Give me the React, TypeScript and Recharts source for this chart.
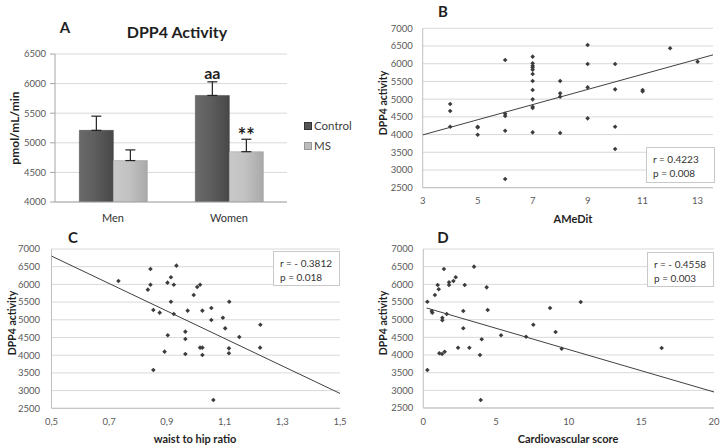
import React from 'react';
import { BarChart, Bar, XAxis, YAxis, CartesianGrid, ErrorBar, ScatterChart, Scatter } from 'recharts';

// ---------- Panel A data ----------
const groups = ['Men', 'Women'];
const controlMeans = [5210, 5800];
const controlErr = [240, 230];
const msMeans = [4700, 4850];
const msErr = [180, 210];
const controlNotes = ['', 'aa'];
const msNotes = ['', '**'];
const barTicks = [4000, 4500, 5000, 5500, 6000, 6500];

// ---------- Shared scatter y ticks ----------
const activityTicks = [2500, 3000, 3500, 4000, 4500, 5000, 5500, 6000, 6500, 7000];

// ---------- Panel B data (AMeDit) ----------
const amedX = [4, 4, 4, 5, 5, 5, 6, 6, 6, 6, 6, 7, 7, 7, 7, 7, 7, 7, 7, 7, 7, 7, 7, 8, 8, 8, 8, 9, 9, 9, 9, 10, 10, 10, 10, 11, 11, 12, 13];
const amedY = [4863, 4665, 4222, 4222, 4200, 3996, 6106, 4590, 4524, 4109, 2744, 6200, 6012, 5940, 5890, 5830, 5710, 5512, 5258, 4994, 4787, 4750, 4062, 5512, 5164, 5070, 4043, 6529, 5992, 5333, 4458, 5992, 5277, 4222, 3591, 5258, 5220, 6435, 6058];
const amedTicks = [3, 5, 7, 9, 11, 13];
const amedTrendX = [3, 13.56];
const amedTrendY = [3990, 6250];

// ---------- Panel C data (waist to hip ratio) ----------
const whrX = [0.732, 0.843, 0.933, 0.914, 0.902, 0.843, 0.924, 0.834, 1.005, 1.015, 0.993, 0.914, 0.853, 0.875, 0.924, 0.972, 1.023, 1.054, 1.054, 1.116, 1.094, 1.102, 0.964, 0.964, 0.903, 1.151, 1.224, 1.223, 1.015, 1.023, 1.115, 1.115, 0.892, 0.964, 1.023, 0.853, 1.061];
const whrY = [6096, 6435, 6529, 6200, 6049, 5992, 5992, 5851, 5926, 5992, 5700, 5512, 5277, 5202, 5164, 5258, 5258, 5333, 4994, 5512, 5060, 4759, 4665, 4458, 4562, 4514, 4862, 4213, 4213, 4213, 4194, 4053, 4100, 4034, 4006, 3582, 2734];
const whrTicks = [0.5, 0.7, 0.9, 1.1, 1.3, 1.5];
const whrTrendX = [0.5, 1.5];
const whrTrendY = [6800, 2920];

// ---------- Panel D data (Cardiovascular score) ----------
const cvX = [1.42, 3.49, 0.99, 1.06, 0.8, 0.28, 1.77, 1.77, 2.07, 2.23, 2.85, 4.36, 0.58, 0.62, 1.61, 1.31, 1.31, 2.75, 4.43, 2.75, 5.35, 7.07, 4.02, 1.1, 1.29, 1.47, 2.39, 3.17, 3.9, 0.28, 3.95, 7.57, 8.72, 9.1, 9.52, 10.83, 16.4];
const cvY = [6434, 6500, 5981, 5859, 5698, 5508, 6057, 5981, 6094, 6199, 5981, 5915, 5245, 5197, 5160, 5055, 4982, 5245, 5274, 4755, 4557, 4517, 4444, 4048, 4028, 4093, 4207, 4207, 4000, 3575, 2726, 4858, 5330, 4651, 4179, 5500, 4198];
const cvTicks = [0, 5, 10, 15, 20];
const cvTrendX = [0.23, 20];
const cvTrendY = [5330, 2953];

const FONT = 'Lato, "Open Sans", sans-serif';
const TICK_COLOR = '#595959';
const TEXT_COLOR = '#1f1f1f';

const barData = groups.map((g, i) => ({
  group: g,
  control: controlMeans[i],
  controlE: [0, controlErr[i]],
  ms: msMeans[i],
  msE: [0, msErr[i]],
}));

const toPoints = (xs: number[], ys: number[]) => xs.map((x, i) => ({ x, y: ys[i] }));

const Marker = (props: any) => {
  const { cx, cy } = props;
  if (cx == null || cy == null) return <g />;
  const r = 2.3;
  return (
    <path
      d={`M${cx},${cy - r} L${cx + r},${cy} L${cx},${cy + r} L${cx - r},${cy} Z`}
      fill="#3c3c3c"
    />
  );
};

const NoMarker = () => <g />;

const makeNoteLabel = (notes: string[], errs: number[], means: number[], base: number, size: number, lift: number) => (props: any) => {
  const { x, y, width, height, index } = props;
  const note = notes[index];
  if (!note) return null;
  const pxPerUnit = height / (means[index] - base);
  const errTop = y - errs[index] * pxPerUnit;
  return (
    <text
      x={x + width / 2}
      y={errTop - lift}
      textAnchor="middle"
      fontFamily={FONT}
      fontWeight={700}
      fontSize={size}
      fill={TEXT_COLOR}
    >
      {note}
    </text>
  );
};

type Rect = { x0: number; y0: number; x1: number; y1: number };

function ScatterPanel(props: {
  left: number; top: number; width: number; height: number; plot: Rect;
  points: { x: number; y: number }[]; trend: { x: number; y: number }[];
  xDomain: [number, number]; xTicks: number[]; comma?: boolean; yTickMargin?: number;
}) {
  const { left, top, width, height, plot, points, trend, xDomain, xTicks, comma } = props;
  const yAxisW = 40;
  const xAxisH = 20;
  const margin = {
    left: plot.x0 - left - yAxisW,
    right: left + width - plot.x1,
    top: plot.y0 - top,
    bottom: top + height - plot.y1 - xAxisH,
  };
  return (
    <div style={{ position: 'absolute', left, top }}>
      <ScatterChart width={width} height={height} margin={margin}>
        <CartesianGrid horizontal vertical={false} stroke="#d9d9d9" strokeWidth={1} />
        <XAxis
          type="number"
          dataKey="x"
          domain={xDomain}
          ticks={xTicks}
          allowDataOverflow
          height={xAxisH}
          tickLine={false}
          axisLine={{ stroke: '#bfbfbf' }}
          tickMargin={4}
          tick={{ fontSize: 9.5, fill: TICK_COLOR, fontFamily: FONT }}
          tickFormatter={(v: number) => (comma ? String(v).replace('.', ',') : String(v))}
          interval={0}
        />
        <YAxis
          type="number"
          dataKey="y"
          domain={[2500, 7000]}
          ticks={activityTicks}
          allowDataOverflow
          width={yAxisW}
          tickLine={false}
          axisLine={{ stroke: '#bfbfbf' }}
          tickMargin={props.yTickMargin ?? 4}
          tick={{ fontSize: 9.5, fill: TICK_COLOR, fontFamily: FONT }}
          interval={0}
        />
        <Scatter data={points} shape={Marker} isAnimationActive={false} />
        <Scatter
          data={trend}
          shape={NoMarker}
          line={{ stroke: '#404040', strokeWidth: 1 }}
          isAnimationActive={false}
        />
      </ScatterChart>
    </div>
  );
}

const Txt = (p: { x: number; y: number; size: number; bold?: boolean; rotate?: boolean; color?: string; children: React.ReactNode }) => (
  <div
    style={{
      position: 'absolute',
      left: p.x,
      top: p.y,
      transform: `translate(-50%, -50%)${p.rotate ? ' rotate(-90deg)' : ''}`,
      fontFamily: FONT,
      fontSize: p.size,
      fontWeight: p.bold ? 700 : 400,
      color: p.color ?? TEXT_COLOR,
      whiteSpace: 'nowrap',
      lineHeight: 1,
    }}
  >
    {p.children}
  </div>
);

const StatBox = (p: { x: number; y: number; w: number; h: number; r: string; pv: string }) => (
  <div
    style={{
      position: 'absolute',
      left: p.x,
      top: p.y,
      width: p.w,
      height: p.h,
      boxSizing: 'border-box',
      border: '1px solid #c8c8c8',
      background: '#fff',
      fontFamily: FONT,
      fontSize: 10,
      color: '#333',
      paddingLeft: 6,
      paddingTop: 4,
      lineHeight: '14px',
      whiteSpace: 'nowrap',
    }}
  >
    <div>{p.r}</div>
    <div>{p.pv}</div>
  </div>
);

export default function App() {
  // Panel A geometry
  const aLeft = 0, aTop = 0, aW = 360, aH = 232;
  const aPlot = { x0: 55, y0: 54, x1: 287, y1: 202 };
  const aYW = 45, aXH = 20;
  const aMargin = {
    left: aPlot.x0 - aLeft - aYW,
    right: aLeft + aW - aPlot.x1,
    top: aPlot.y0 - aTop,
    bottom: aTop + aH - aPlot.y1 - aXH,
  };

  return (
    <div style={{ position: 'absolute', left: 0, top: 0, width: 723, height: 447, background: '#fff', overflow: 'hidden' }}>
      {/* Panel A */}
      <div style={{ position: 'absolute', left: aLeft, top: aTop }}>
        <BarChart width={aW} height={aH} margin={aMargin} data={barData} barGap={0} barCategoryGap="21%">
          <defs>
            <linearGradient id="gradControl" x1="0" y1="0" x2="1" y2="0">
              <stop offset="0%" stopColor="#6a6a6a" />
              <stop offset="45%" stopColor="#5e5e5e" />
              <stop offset="100%" stopColor="#474747" />
            </linearGradient>
            <linearGradient id="gradMS" x1="0" y1="0" x2="1" y2="0">
              <stop offset="0%" stopColor="#c9c9c9" />
              <stop offset="45%" stopColor="#c2c2c2" />
              <stop offset="100%" stopColor="#a9a9a9" />
            </linearGradient>
          </defs>
          <CartesianGrid horizontal vertical={false} stroke="#d9d9d9" />
          <XAxis
            dataKey="group"
            height={aXH}
            tickLine={false}
            axisLine={{ stroke: '#a6a6a6' }}
            tickMargin={6}
            tick={{ fontSize: 11, fill: '#333', fontFamily: FONT }}
          />
          <YAxis
            domain={[4000, 6500]}
            ticks={barTicks}
            width={aYW}
            allowDataOverflow
            tickSize={5}
            tickLine={{ stroke: '#a6a6a6' }}
            axisLine={{ stroke: '#a6a6a6' }}
            tickMargin={4}
            tick={{ fontSize: 9.5, fill: TICK_COLOR, fontFamily: FONT }}
            interval={0}
          />
          <Bar
            dataKey="control"
            fill="url(#gradControl)"
            stroke="#444"
            strokeWidth={0.5}
            isAnimationActive={false}
            label={makeNoteLabel(controlNotes, controlErr, controlMeans, 4000, 16, 3)}
          >
            <ErrorBar dataKey="controlE" width={5} stroke="#222" strokeWidth={1.2} direction="y" />
          </Bar>
          <Bar
            dataKey="ms"
            fill="url(#gradMS)"
            stroke="#9a9a9a"
            strokeWidth={0.5}
            isAnimationActive={false}
            label={makeNoteLabel(msNotes, msErr, msMeans, 4000, 20, -4)}
          >
            <ErrorBar dataKey="msE" width={5} stroke="#222" strokeWidth={1.2} direction="y" />
          </Bar>
        </BarChart>
      </div>
      {/* Panel A legend */}
      <div style={{ position: 'absolute', left: 304, top: 116, fontFamily: FONT, fontSize: 11.5, color: '#404040', lineHeight: '20px' }}>
        <div style={{ display: 'flex', alignItems: 'center' }}>
          <span style={{ display: 'inline-block', width: 6, height: 6, background: '#555', border: '0.5px solid #333', marginRight: 2 }} />
          Control
        </div>
        <div style={{ display: 'flex', alignItems: 'center' }}>
          <span style={{ display: 'inline-block', width: 6, height: 6, background: '#bdbdbd', border: '0.5px solid #999', marginRight: 2 }} />
          MS
        </div>
      </div>
      <Txt x={65} y={27} size={15} bold>A</Txt>
      <Txt x={177} y={32} size={16} bold>DPP4 Activity</Txt>
      <Txt x={15} y={128} size={12} bold rotate>pmol/mL/min</Txt>

      {/* Panel B */}
      <ScatterPanel
        left={360} top={0} width={363} height={232}
        plot={{ x0: 422.7, y0: 28.3, x1: 713, y1: 187.7 }}
        points={toPoints(amedX, amedY)}
        trend={toPoints(amedTrendX, amedTrendY)}
        xDomain={[3, 13.56]}
        xTicks={amedTicks}
      />
      <Txt x={443} y={11} size={15} bold>B</Txt>
      <Txt x={383} y={103} size={10.5} bold rotate>DPP4 activity</Txt>
      <Txt x={573} y={218} size={11} bold>AMeDit</Txt>
      <StatBox x={646} y={147} w={69} h={36} r="r = 0.4223" pv="p = 0.008" />

      {/* Panel C */}
      <ScatterPanel
        left={0} top={222} width={360} height={225}
        plot={{ x0: 51.5, y0: 249, x1: 340, y1: 408.3 }}
        points={toPoints(whrX, whrY)}
        trend={toPoints(whrTrendX, whrTrendY)}
        xDomain={[0.5, 1.5]}
        xTicks={whrTicks}
        comma
        yTickMargin={5.5}
      />
      <Txt x={73} y={237} size={15} bold>C</Txt>
      <Txt x={12} y={323} size={10.5} bold rotate>DPP4 activity</Txt>
      <Txt x={195} y={438} size={11} bold>waist to hip ratio</Txt>
      <StatBox x={273} y={251} w={67} h={35} r="r = - 0.3812" pv="p = 0.018" />

      {/* Panel D */}
      <ScatterPanel
        left={360} top={222} width={363} height={225}
        plot={{ x0: 423.3, y0: 249, x1: 714, y1: 408 }}
        points={toPoints(cvX, cvY)}
        trend={toPoints(cvTrendX, cvTrendY)}
        xDomain={[0, 20]}
        xTicks={cvTicks}
      />
      <Txt x={443} y={237} size={15} bold>D</Txt>
      <Txt x={383} y={323} size={10.5} bold rotate>DPP4 activity</Txt>
      <Txt x={568} y={438} size={11} bold>Cardiovascular score</Txt>
      <StatBox x={647} y={252} w={67} h={35} r="r = - 0.4558" pv="p = 0.003" />
    </div>
  );
}
